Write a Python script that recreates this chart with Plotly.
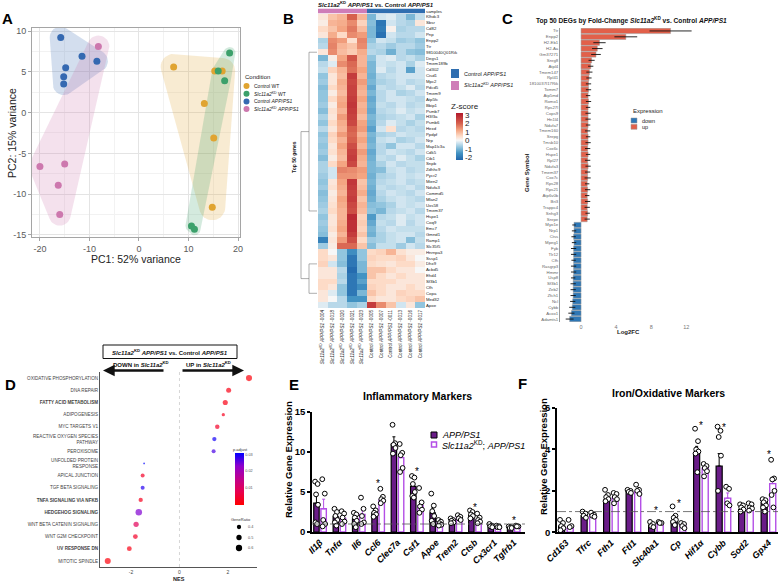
import numpy as np
import plotly.graph_objects as go

W, H = 780, 582
FONT = "Liberation Sans, Arial, Helvetica, sans-serif"


def X(px):
    return px / W


def Y(py):
    return 1 - py / H


# ===================== DATA =====================
# ---- Panel A: PCA ----
pc1_control_wt = [7.0, 15.3, 16.8, 13.2, 15.1, 14.8]
pc2_control_wt = [5.6, 5.1, 5.1, 1.1, -3.1, -11.6]
pc1_kd_wt = [18.3, 16.0, 17.3, 10.6, 11.2]
pc2_kd_wt = [7.3, 5.1, 3.9, -13.9, -14.3]
pc1_control_app = [-15.8, -11.5, -8.5, -14.8, -15.2, -15.2]
pc2_control_app = [9.2, 6.9, 6.3, 5.5, 4.4, 3.5]
pc1_kd_app = [-8.2, -20.0, -15.0, -16.3, -16.0]
pc2_kd_app = [8.1, -6.6, -6.3, -8.9, -12.5]
pca_conditions = ["Control WT", "<i>Slc11a2</i><sup>KD</sup> WT",
                  "Control <i>APP/PS1</i>", "<i>Slc11a2</i><sup>KD</sup> <i>APP/PS1</i>"]
pca_xticks = [-20, -10, 0, 10, 20]
pca_yticks = [-15, -10, -5, 0, 5, 10]

# ---- Panel B: heatmap ----
heat_genes = ["Klhdc3", "Sbsr", "Cd82", "Pnp", "Enpp2", "Ttr", "9810040Q01Rik", "Degs1",
              "Tmem189b", "Cd302", "Cisd1", "Mpc2", "Pdcd5", "Tmem9", "Atp5fc", "Bbip1",
              "Psmb7", "H3f3a", "Psmb6", "Hexd", "Ppdpf", "Nrp", "Map1lc3a", "Cdk5", "Cib1",
              "Snpb", "Zdhhc9", "Pycr2", "Mien2", "Ndufa3", "Commd5", "Mlan2", "Uxs58",
              "Tmem37", "Hspe1", "Coq9", "Emc7", "Gmnd1", "Ramp1", "Slc35f5", "Hnrnpa3",
              "Sssp1", "Dhx9", "Acbd5", "Ehd4", "Sf3b1", "Cfh", "Copa", "Med32", "Apoe"]
heat_sample_ids = ["0004", "0018", "0020", "0021", "0023", "0005", "0007", "0011", "0013", "0016", "0017"]
heat_sample_group = ["KD", "KD", "KD", "KD", "KD", "Control", "Control", "Control", "Control", "Control", "Control"]
heat_z = [
    [0.3, 0.8, 1.0, 2.0, 1.0, -1.0, -0.3, -0.2, -0.5, -1.0, -0.4],
    [0.2, 1.0, 1.1, 1.5, 0.6, -0.9, -2.0, -0.3, -0.5, -0.6, 0.3],
    [0.5, 0.8, 1.2, 1.7, 0.9, -1.0, -1.9, 0.1, -0.6, -0.5, -0.5],
    [0.3, 1.1, 0.5, 1.5, 1.3, -1.0, -2.1, -0.3, -0.5, -0.5, -0.3],
    [-0.6, 1.5, 1.3, 0.4, 1.6, -0.8, -0.3, -0.4, -0.7, -0.6, -0.8],
    [-0.5, 1.6, 1.0, 0.8, 1.5, -0.6, -0.5, -0.7, -0.5, -0.5, -0.7],
    [0.3, 1.5, 0.9, 0.7, 1.1, -0.5, -0.6, -1.1, -0.5, -0.8, -0.9],
    [-1.0, 0.2, 1.2, 2.2, 1.0, -0.8, -0.3, -0.2, -0.5, -0.4, -0.6],
    [-0.5, -0.2, 1.5, 1.9, 1.0, -1.0, -0.3, -0.4, -0.3, -0.6, -0.2],
    [-0.4, 0.6, 1.0, 1.8, 1.2, -1.0, -0.2, -0.5, -0.3, -1.3, -0.3],
    [-0.8, 0.3, 0.9, 2.6, 1.0, -1.1, -0.5, -0.4, -0.3, -0.3, -0.3],
    [-0.7, 0.3, 1.1, 2.4, 1.3, -1.0, -0.6, -0.5, -0.3, -0.5, -0.4],
    [-0.9, 0.5, 1.0, 2.5, 1.1, -1.2, -0.4, -0.5, -0.4, -0.2, -0.5],
    [-0.8, 0.2, 0.9, 2.5, 1.0, -1.0, -0.5, -0.3, -0.6, -0.5, -0.3],
    [-0.8, 0.5, 1.1, 2.6, 1.2, -1.2, -0.5, -0.3, -0.3, -0.4, -0.5],
    [-0.7, 0.2, 1.2, 2.7, 1.0, -1.1, -0.4, -0.5, -0.3, -0.5, -0.4],
    [-0.9, 0.4, 1.0, 2.6, 1.1, -1.2, -0.5, -0.4, -0.2, -0.4, -0.3],
    [-0.6, 0.3, 1.3, 2.5, 0.9, -1.0, -0.6, -0.5, -0.4, -0.3, -0.6],
    [-0.8, 0.5, 1.1, 2.4, 1.2, -1.1, -0.5, -0.2, -0.4, -0.6, -0.4],
    [-0.5, 0.3, 1.0, 2.0, 1.3, -1.3, -0.3, 0.4, -0.5, -0.4, -0.5],
    [-0.8, 0.6, 1.3, 1.9, 1.0, -1.0, -0.6, -0.5, -0.3, -0.4, -0.4],
    [-0.7, 0.5, 1.0, 2.0, 1.2, -1.1, -0.4, -0.3, -0.6, -0.5, -0.3],
    [-0.8, 0.3, 1.2, 2.3, 1.0, -1.0, -0.5, -0.8, -0.3, -0.3, -0.5],
    [-0.7, 0.4, 1.0, 2.5, 1.3, -1.2, -0.5, -0.3, -0.4, -0.5, -0.3],
    [-0.9, 0.2, 0.9, 2.6, 1.1, -1.1, -0.4, -0.5, -0.2, -0.4, -0.6],
    [-0.6, 0.5, 1.2, 2.4, 1.0, -1.0, -0.6, -0.3, -0.5, -0.4, -0.4],
    [-0.6, -0.3, 1.6, 1.5, 1.3, -1.0, -0.9, -0.4, -0.3, -0.5, -0.4],
    [-0.7, -0.3, 1.4, 1.4, 1.2, -1.1, -0.6, -0.5, -0.3, -0.4, -0.3],
    [-0.8, 0.3, 1.2, 2.7, 0.8, -1.0, -0.5, -0.4, -0.3, -0.5, -0.4],
    [-0.7, 0.4, 1.1, 2.6, 0.9, -1.1, -0.4, -0.5, -0.4, -0.3, -0.5],
    [-0.9, 0.2, 1.0, 2.5, 1.1, -1.2, -0.5, -0.3, -0.4, -0.5, -0.3],
    [-0.8, 0.3, 1.2, 2.6, 0.8, -1.1, -0.6, -0.4, -0.3, -0.4, -0.5],
    [-0.7, 0.4, 1.1, 2.4, 1.0, -0.9, -0.8, -0.6, -0.3, -0.4, -0.3],
    [-0.6, 0.5, 1.0, 2.3, 0.9, -0.8, -1.0, -0.5, -0.4, -0.3, -0.5],
    [-0.8, 0.3, 1.0, 2.9, 0.6, -1.4, -0.5, -0.4, -0.2, -0.4, -0.3],
    [-0.7, 0.3, 1.1, 2.8, 0.7, -1.2, -0.4, -0.5, -0.2, -0.5, -0.3],
    [-0.8, 0.4, 1.2, 2.8, 0.6, -1.0, -0.5, -0.3, -0.4, -0.4, -0.4],
    [-0.9, 0.2, 1.0, 2.6, 0.8, -1.1, -0.6, -0.4, -0.3, -0.3, -0.5],
    [-1.8, 0.3, 1.3, 2.3, 0.5, -0.7, -0.6, -0.4, -0.3, -0.9, -0.4],
    [-0.7, 0.2, 1.9, 1.9, 0.8, -0.9, -0.4, -0.4, -0.7, -0.3, -0.5],
    [0.5, 0.0, -0.8, -1.6, -0.8, 0.5, 0.6, 1.0, 0.4, 0.2, 0.2],
    [0.5, 0.3, -0.8, -2.0, -0.8, 0.6, 0.5, 0.5, 0.6, 0.3, 0.0],
    [0.6, -0.3, -0.9, -2.0, -1.0, 0.5, 0.4, 0.3, 0.5, 0.5, 0.2],
    [0.3, 0.3, -0.5, -2.2, -1.0, 0.8, 0.8, 0.5, 0.3, 0.3, 0.0],
    [0.3, 0.3, -0.6, -2.0, -1.5, 0.8, 0.5, 0.3, 0.5, 0.3, 0.3],
    [0.5, 0.5, -0.5, -2.0, -1.3, 0.5, 0.5, 0.5, 0.3, 0.3, 0.3],
    [0.5, 0.3, -0.8, -2.0, -1.6, 0.6, 0.5, 0.3, 0.3, 0.5, 0.3],
    [0.3, -0.2, -0.8, -2.0, -1.0, 0.8, 0.5, 0.3, 0.6, 0.5, 0.5],
    [0.3, 0.0, -0.5, -1.5, -1.5, 0.5, 0.3, 0.3, 0.5, 0.6, 0.8],
    [-0.2, -0.5, -0.5, -0.8, -0.6, 2.6, 1.5, 0.8, -0.3, 0.3, -0.8],
]
zscore_ticks = [-2, -1, 0, 1, 2, 3]

# ---- Panel C: top 50 DEGs ----
c_genes_up = ["Ttr", "Enpp2", "H2-Eb1", "H2-Aa", "Gm37271", "Snrg8", "Atpl4", "Tmem147", "Rpl41",
              "1810037I17Rik", "Tomm7", "Atp5md", "Romo1", "Rps27l", "Cops9", "Hn1l4", "Ndufa7",
              "Tmem160", "Snrpg", "Tmsb10", "Cox6c", "Hspe1", "Rpl27", "Ndufa3", "Tmem37", "Cox7c",
              "Rps28", "Rps21", "Atp6v0b", "Bri3", "Trappc4", "Snhg3", "Snrpe"]
c_lfc_up = [10.2, 5.1, 2.1, 1.85, 1.7, 1.2, 1.1, 0.95, 0.9, 0.85,
            0.85, 0.8, 0.85, 0.8, 0.8, 0.8, 0.8, 0.75, 0.8, 0.8,
            0.75, 0.8, 0.75, 0.8, 0.75, 0.75, 0.7, 0.75, 0.7, 0.75,
            0.7, 0.75, 0.7]
c_err_up = [2.4, 1.3, 0.7, 0.6, 0.55, 0.35, 0.3, 0.35, 0.3, 0.3,
            0.3, 0.25, 0.3, 0.25, 0.3, 0.3, 0.25, 0.3, 0.25, 0.3,
            0.3, 0.25, 0.3, 0.3, 0.3, 0.35, 0.25, 0.3, 0.25, 0.3,
            0.3, 0.25, 0.3]
c_genes_down = ["Myo1e", "Nrp1", "Ctss", "Mpeg1", "Fyb", "Tlr12", "Cfh", "Rasgrp3", "Hmmr", "Usp8",
                "Sf3b1", "Zeb2", "Zfch1", "Ncl", "Cybb", "Acox1", "Adamts1"]
c_lfc_down = [-0.8, -0.8, -0.85, -0.8, -0.85, -0.85, -0.85, -0.85, -0.85, -0.9,
              -0.9, -0.9, -0.9, -0.95, -1.0, -1.1, -1.3]
c_err_down = [0.2, 0.25, 0.25, 0.25, 0.3, 0.3, 0.25, 0.3, 0.3, 0.25,
              0.3, 0.3, 0.3, 0.3, 0.35, 0.35, 0.45]
c_xticks = [0, 4, 8, 12]

# ---- Panel D: GSEA ----
gsea_terms = ["OXIDATIVE PHOSPHORYLATION", "DNA REPAIR", "FATTY ACID METABOLISM", "ADIPOGENESIS",
              "MYC TARGETS V1", "REACTIVE OXYGEN SPECIES PATHWAY", "PEROXISOME",
              "UNFOLDED PROTEIN RESPONSE", "APICAL JUNCTION", "TGF BETA SIGNALING",
              "TNFA SIGNALING VIA NFKB", "HEDGEHOG SIGNALING", "WNT BETA CATENIN SIGNALING",
              "WNT G2M CHECKPOINT", "UV RESPONSE DN", "MITOTIC SPINDLE"]
gsea_nes = [2.87, 2.03, 1.89, 1.81, 1.56, 1.44, 1.41, -1.46, -1.52, -1.52,
            -1.60, -1.68, -1.79, -1.82, -2.07, -2.96]
gsea_padj = [0.001, 0.002, 0.002, 0.003, 0.004, 0.030, 0.027, 0.031, 0.004, 0.029,
             0.003, 0.024, 0.009, 0.004, 0.002, 0.001]
gsea_gene_ratio = [0.58, 0.47, 0.48, 0.30, 0.42, 0.40, 0.37, 0.15, 0.37, 0.37,
                   0.40, 0.62, 0.50, 0.45, 0.45, 0.57]
gsea_ratio_legend = [0.4, 0.5, 0.6]
padj_ticks = [0.01, 0.02, 0.03]
nes_ticks = [-2, 0, 2]

# ---- Panel E: inflammatory markers ----
e_genes = ["Il1β", "Tnfα", "Il6", "Ccl6", "Clec7a", "Csf1", "Apoe", "Trem2", "Ctsb", "Cx3cr1", "Tgfrb1"]
e_app_mean = [3.6, 1.9, 1.6, 2.4, 11.0, 5.7, 2.4, 1.4, 2.1, 0.8, 0.6]
e_app_sem = [1.1, 0.35, 0.3, 0.3, 0.9, 0.5, 0.6, 0.1, 0.2, 0.1, 0.05]
e_kd_mean = [2.9, 1.7, 2.2, 4.0, 9.3, 3.3, 1.2, 1.8, 1.5, 0.7, 0.7]
e_kd_sem = [1.2, 0.3, 0.6, 0.3, 0.7, 0.5, 0.15, 0.15, 0.2, 0.05, 0.05]
e_app_pts = [[6.3, 6.0, 4.7, 3.4, 1.2, 1.0], [2.9, 2.5, 2.0, 1.5, 1.2, 0.8],
             [2.4, 2.2, 1.8, 1.4, 1.0, 0.6], [3.2, 2.7, 2.4, 2.2, 1.9],
             [13.4, 11.1, 10.9, 10.5, 9.8], [7.0, 6.8, 6.0, 5.0, 4.5, 4.3],
             [4.8, 3.3, 2.6, 2.0, 1.4, 1.0], [1.7, 1.5, 1.4, 1.2, 1.1],
             [2.7, 2.5, 2.2, 2.0, 1.7], [1.0, 0.8, 0.7, 0.6], [0.7, 0.6, 0.5, 0.5]]
e_kd_pts = [[6.6, 4.8, 1.5, 1.0, 0.7], [2.6, 2.3, 1.8, 1.3, 1.0],
            [4.3, 2.9, 2.0, 1.2, 1.0], [5.4, 4.4, 4.1, 3.9, 3.6],
            [11.0, 9.9, 9.6, 8.0, 7.5], [5.5, 3.7, 3.2, 2.8, 2.4],
            [1.5, 1.3, 1.1, 0.9, 0.8], [2.1, 1.9, 1.7, 1.5],
            [2.3, 1.8, 1.5, 1.3, 1.1], [0.8, 0.7, 0.6, 0.6], [0.8, 0.7, 0.7]]
e_sig_genes = ["Ccl6", "Csf1", "Ctsb", "Tgfrb1"]
e_sig_y = [6.5, 7.9, 3.5, 1.8]
e_yticks = [0, 5, 10, 15]

# ---- Panel F: iron / oxidative markers ----
f_genes = ["Cd163", "Tfrc", "Fth1", "Ftl1", "Slc40a1", "Cp", "Hif1α", "Cybb", "Sod2", "Gpx4"]
f_app_mean = [0.3, 0.8, 1.55, 1.95, 0.35, 0.55, 3.85, 3.2, 1.1, 1.45]
f_app_sem = [0.1, 0.06, 0.1, 0.05, 0.05, 0.15, 0.3, 0.6, 0.06, 0.08]
f_kd_mean = [0.2, 0.8, 1.65, 1.95, 0.45, 0.35, 3.1, 1.65, 1.1, 2.35]
f_kd_sem = [0.1, 0.05, 0.1, 0.08, 0.02, 0.06, 0.12, 0.25, 0.06, 0.3]
f_app_pts = [[0.6, 0.45, 0.3, 0.2, 0.1], [1.0, 0.9, 0.8, 0.7], [2.05, 1.8, 1.7, 1.6, 1.5],
             [2.05, 2.0, 1.95, 1.9], [0.5, 0.4, 0.3, 0.25], [1.25, 0.8, 0.7, 0.6, 0.5, 0.35],
             [5.0, 4.4, 4.0, 3.9, 3.8, 2.9], [5.1, 4.9, 4.6, 3.7, 2.0],
             [1.35, 1.3, 1.2, 1.1, 1.0], [1.6, 1.55, 1.45, 1.3, 1.2, 1.0]]
f_kd_pts = [[0.6, 0.3, 0.25], [0.95, 0.85, 0.8, 0.75], [1.9, 1.85, 1.7, 1.6, 1.4],
            [2.3, 2.05, 2.0, 1.85], [0.5, 0.45, 0.45], [0.45, 0.4, 0.3, 0.2],
            [3.3, 3.2, 3.1, 2.95, 2.7], [2.2, 2.1, 1.4, 1.3],
            [1.4, 1.35, 1.2, 1.15, 1.05], [3.5, 2.6, 2.55, 2.0, 1.8, 1.2]]
f_sig_genes = ["Slc40a1", "Cp", "Hif1α", "Cybb", "Gpx4"]
f_sig_y = [1.2, 1.55, 5.3, 5.2, 3.9]
f_yticks = [0, 2, 4, 6]
reference_level = 1

# ===================== STYLE =====================
COL_CWT, COL_KWT, COL_CAPP, COL_KAPP = "#E0A431", "#3CA06B", "#3569B1", "#CD78AE"
FILL = {COL_CWT: "rgba(224,164,49,0.22)", COL_KWT: "rgba(60,160,107,0.22)",
        COL_CAPP: "rgba(53,105,177,0.22)", COL_KAPP: "rgba(205,120,174,0.22)"}
UP_COL, DOWN_COL = "#E2604A", "#2E77B5"
APP_COL, KD_COL = "#6A1C88", "#B44FE6"
SAMPLE_BLUE, SAMPLE_PINK = "#2F6EB0", "#CF7DB8"


def lab(v):
    return str(v).replace("−", "-")


def rounded_hull(xs, ys, sx, sy, r, n=36):
    pts = []
    for x, y in zip(xs, ys):
        for k in range(n):
            t = 2 * np.pi * k / n
            pts.append((round(x * sx + r * np.cos(t), 4), round(y * sy + r * np.sin(t), 4)))
    pts = sorted(set(pts))

    def cross(o, a, b):
        return (a[0] - o[0]) * (b[1] - o[1]) - (a[1] - o[1]) * (b[0] - o[0])

    lower, upper = [], []
    for p in pts:
        while len(lower) >= 2 and cross(lower[-2], lower[-1], p) <= 0:
            lower.pop()
        lower.append(p)
    for p in reversed(pts):
        while len(upper) >= 2 and cross(upper[-2], upper[-1], p) <= 0:
            upper.pop()
        upper.append(p)
    hull = lower[:-1] + upper[:-1]
    hull.append(hull[0])
    return [p[0] / sx for p in hull], [p[1] / sy for p in hull]


fig = go.Figure()
annotations = []
shapes = []

# ===================== PANEL A =====================
a_xr, a_yr = [-21.6, 20.4], [-15.25, 10.37]
a_sx = (240 - 32) / (a_xr[1] - a_xr[0])
a_sy = (237 - 28) / (a_yr[1] - a_yr[0])
groupsA = [(pc1_control_wt, pc2_control_wt, COL_CWT, 13),
           (pc1_kd_wt, pc2_kd_wt, COL_KWT, 6),
           (pc1_control_app, pc2_control_app, COL_CAPP, 11),
           (pc1_kd_app, pc2_kd_app, COL_KAPP, 11)]
for xs, ys, col, r in groupsA:
    hx, hy = rounded_hull(xs, ys, a_sx, a_sy, r)
    fig.add_trace(go.Scatter(x=hx, y=hy, mode="lines", fill="toself", fillcolor=FILL[col],
                             line=dict(width=0), hoverinfo="skip", xaxis="x", yaxis="y"))
for xs, ys, col, r in groupsA:
    fig.add_trace(go.Scatter(x=xs, y=ys, mode="markers", marker=dict(color=col, size=7),
                             xaxis="x", yaxis="y"))

annotations += [
    dict(text="PC1: 52% variance", x=X(136), y=Y(259), font=dict(size=10.5, color="#222")),
    dict(text="PC2: 15% variance", x=X(12), y=Y(133), textangle=-90, font=dict(size=10.5, color="#222")),
    dict(text="Condition", x=X(243), y=Y(77), xanchor="left", font=dict(size=6, color="#222")),
]
for i, (name, col) in enumerate(zip(pca_conditions, [COL_CWT, COL_KWT, COL_CAPP, COL_KAPP])):
    yy = 86 + i * 7.7
    shapes.append(dict(type="circle", xref="paper", yref="paper", xsizemode="pixel", ysizemode="pixel",
                       xanchor=X(246.5), yanchor=Y(yy), x0=-3, x1=3, y0=-3, y1=3,
                       fillcolor=col, line=dict(width=0)))
    annotations.append(dict(text=name, x=X(251.5), y=Y(yy), xanchor="left", font=dict(size=5, color="#222")))

# ===================== PANEL B =====================
zmin, zmax = -2.3, 3.2
cs_vals = [-2.3, -1.5, -0.8, -0.3, 0.0, 0.5, 1.2, 2.0, 3.2]
cs_cols = ["#2166AC", "#4393C3", "#92C5DE", "#D1E5F0", "#F7F7F7", "#FDDBC7", "#F4A582", "#D6604D", "#B2182B"]
heat_cs = [[(v - zmin) / (zmax - zmin), c] for v, c in zip(cs_vals, cs_cols)]
sample_keys = [g + "-" + s for g, s in zip(heat_sample_group, heat_sample_ids)]
sample_text = [("<i>Slc11a2</i><sup>KD</sup> <i>APP/PS1</i> -" if g == "KD" else "Control <i>APP/PS1</i> -") + s
               for g, s in zip(heat_sample_group, heat_sample_ids)]
fig.add_trace(go.Heatmap(
    z=heat_z, x=sample_keys, y=heat_genes, colorscale=heat_cs, zmin=zmin, zmax=zmax,
    xaxis="x2", yaxis="y2",
    colorbar=dict(x=X(456), xanchor="left", y=Y(113), yanchor="top", len=47, lenmode="pixels",
                  thickness=7, thicknessmode="pixels", xpad=0, ypad=0, outlinewidth=0,
                  tickmode="array", tickvals=zscore_ticks, ticktext=[lab(v) for v in zscore_ticks],
                  tickfont=dict(size=8, color="#222"), ticks="")))
fig.add_trace(go.Heatmap(
    z=[[1 if g == "KD" else 0 for g in heat_sample_group]], x=sample_keys, y=["samples"],
    colorscale=[[0, SAMPLE_BLUE], [1, SAMPLE_PINK]], showscale=False, zmin=0, zmax=1,
    xaxis="x3", yaxis="y3"))

annotations += [
    dict(text="<b><i>Slc11a2</i><sup>KD</sup> <i>APP/PS1</i> vs. Control <i>APP/PS1</i></b>",
         x=X(376), y=Y(4.5), font=dict(size=6, color="#111")),
    dict(text="Z-score", x=X(465), y=Y(106.5), font=dict(size=8, color="#222")),
    dict(text="Control <i>APP/PS1</i>", x=X(462), y=Y(74), xanchor="left", font=dict(size=5.5, color="#222")),
    dict(text="<i>Slc11a2</i><sup>KD</sup> <i>APP/PS1</i>", x=X(462), y=Y(85), xanchor="left",
         font=dict(size=5.5, color="#222")),
    dict(text="<b>Top 50 genes</b>", x=X(294), y=Y(157), textangle=-90, font=dict(size=5, color="#222")),
]
shapes += [
    dict(type="rect", xref="paper", yref="paper", x0=X(451), x1=X(459), y0=Y(78), y1=Y(69),
         fillcolor=SAMPLE_BLUE, line=dict(width=0)),
    dict(type="rect", xref="paper", yref="paper", x0=X(451), x1=X(459), y0=Y(90), y1=Y(81),
         fillcolor=SAMPLE_PINK, line=dict(width=0)),
]
# simple row dendrogram (up-cluster rows 0-39, down-cluster rows 40-49)
dline = dict(color="#777", width=0.6)
for seg in [((301, 19.5), (301, 44.5)), ((301, 19.5), (309, 19.5)), ((301, 44.5), (309, 44.5)),
            ((309, 6), (309, 33)), ((309, 6), (317, 6)), ((309, 33), (317, 33)),
            ((309, 42), (309, 47)), ((309, 42), (317, 42)), ((309, 47), (317, 47))]:
    (x0, y0), (x1, y1) = seg
    shapes.append(dict(type="line", xref="paper", yref="y2", x0=X(x0), x1=X(x1), y0=y0, y1=y1, line=dline))

# ===================== PANEL C =====================
fig.add_trace(go.Bar(x=c_lfc_up, y=c_genes_up, orientation="h", width=0.9,
                     marker=dict(color=UP_COL, line=dict(color="#999", width=0.5)),
                     error_x=dict(type="data", array=c_err_up, color="#111", thickness=0.9, width=0),
                     xaxis="x4", yaxis="y4"))
fig.add_trace(go.Bar(x=c_lfc_down, y=c_genes_down, orientation="h", width=0.9,
                     marker=dict(color=DOWN_COL, line=dict(color="#999", width=0.5)),
                     error_x=dict(type="data", array=c_err_down, color="#111", thickness=0.9, width=0),
                     xaxis="x4", yaxis="y4"))
c_all = c_genes_up + c_genes_down
annotations += [
    dict(text="<b>Top 50 DEGs by Fold-Change <i>Slc11a2</i><sup>KD</sup> vs. Control <i>APP/PS1</i></b>",
         x=X(631), y=Y(20.5), font=dict(size=6.6, color="#111")),
    dict(text="<b>Log2FC</b>", x=X(628), y=Y(331.5), font=dict(size=6, color="#222")),
    dict(text="<b>Gene Symbol</b>", x=X(527), y=Y(173), textangle=-90, font=dict(size=6, color="#222")),
    dict(text="Expression", x=X(631), y=Y(111), xanchor="left", font=dict(size=6, color="#222")),
    dict(text="down", x=X(640), y=Y(120.5), xanchor="left", font=dict(size=5.5, color="#222")),
    dict(text="up", x=X(640), y=Y(126.8), xanchor="left", font=dict(size=5.5, color="#222")),
]
shapes += [
    dict(type="rect", xref="paper", yref="paper", x0=X(631), x1=X(637), y0=Y(123), y1=Y(118),
         fillcolor=DOWN_COL, line=dict(color="#999", width=0.5)),
    dict(type="rect", xref="paper", yref="paper", x0=X(631), x1=X(637), y0=Y(129.3), y1=Y(124.3),
         fillcolor=UP_COL, line=dict(color="#999", width=0.5)),
]

# ===================== PANEL D =====================
def ratio_to_px(r):
    return 10 * r + 0.3


padj_cs = [[0, "#FF0000"], [0.25, "#E8004E"], [0.5, "#C0008C"], [0.75, "#8E00CC"], [1, "#0000FF"]]
fig.add_trace(go.Scatter(
    x=gsea_nes, y=gsea_terms, mode="markers", xaxis="x5", yaxis="y5",
    marker=dict(size=[ratio_to_px(r) for r in gsea_gene_ratio], color=gsea_padj, colorscale=padj_cs,
                cmin=0, cmax=0.031, line=dict(width=0),
                colorbar=dict(x=X(235), xanchor="left", y=Y(452.7), yanchor="top", len=52, lenmode="pixels",
                              thickness=9, thicknessmode="pixels", xpad=0, ypad=0, outlinewidth=0,
                              tickmode="array", tickvals=padj_ticks, ticktext=[str(v) for v in padj_ticks],
                              tickfont=dict(size=3.8, color="#555"), ticks=""))))
wrapped = {"REACTIVE OXYGEN SPECIES PATHWAY": "REACTIVE OXYGEN SPECIES<br>PATHWAY",
           "UNFOLDED PROTEIN RESPONSE": "UNFOLDED PROTEIN<br>RESPONSE"}
bold_terms = {"FATTY ACID METABOLISM", "TNFA SIGNALING VIA NFKB", "HEDGEHOG SIGNALING", "UV RESPONSE DN"}
term_text = []
for t in gsea_terms:
    s = wrapped.get(t, t)
    term_text.append("<b>" + s + "</b>" if t in bold_terms else s)
annotations += [
    dict(text="<b><i>Slc11a2</i><sup>KD</sup> <i>APP/PS1</i> vs. Control <i>APP/PS1</i></b>",
         x=X(170), y=Y(351.5), font=dict(size=6, color="#111")),
    dict(text="<b>DOWN in <i>Slc11a2</i><sup>KD</sup></b>", x=X(141), y=Y(363.5), font=dict(size=6, color="#111")),
    dict(text="<b>UP in <i>Slc11a2</i><sup>KD</sup></b>", x=X(208), y=Y(363.5), font=dict(size=6, color="#111")),
    dict(text=" ", x=X(103), y=Y(370.5), ax=63, ay=0, showarrow=True, arrowhead=2, arrowsize=0.9,
         arrowwidth=2.6, arrowcolor="#111"),
    dict(text=" ", x=X(244), y=Y(370.5), ax=-64, ay=0, showarrow=True, arrowhead=2, arrowsize=0.9,
         arrowwidth=2.6, arrowcolor="#111"),
    dict(text="<b>NES</b>", x=X(179), y=Y(578.5), font=dict(size=5.5, color="#222")),
    dict(text="p.adjust", x=X(240), y=Y(449.5), font=dict(size=4, color="#333")),
    dict(text="GeneRatio", x=X(241), y=Y(519), font=dict(size=4, color="#333")),
]
shapes.append(dict(type="rect", xref="paper", yref="paper", x0=X(103), x1=X(237), y0=Y(358.5), y1=Y(345),
                   line=dict(color="#111", width=1)))
shapes.append(dict(type="line", xref="x5", yref="y5 domain", x0=0, x1=0, y0=0, y1=1,
                   line=dict(color="#CCCCCC", width=0.8, dash="dot")))
for i, r in enumerate(gsea_ratio_legend):
    yy = 527 + i * 10.5
    rad = ratio_to_px(r) / 2
    shapes.append(dict(type="circle", xref="paper", yref="paper", xsizemode="pixel", ysizemode="pixel",
                       xanchor=X(239), yanchor=Y(yy), x0=-rad, x1=rad, y0=-rad, y1=rad,
                       fillcolor="#000", line=dict(width=0)))
    annotations.append(dict(text=str(r), x=X(245.5), y=Y(yy), xanchor="left", font=dict(size=3.8, color="#555")))

# ===================== PANELS E & F =====================
jit = [-0.07, 0.06, -0.02, 0.08, -0.05, 0.03]


def bar_panel(genes, app_m, app_s, kd_m, kd_s, app_pts, kd_pts, xa, ya, off_app, off_kd, wdt):
    idx = list(range(len(genes)))
    fig.add_trace(go.Bar(x=idx, y=app_m, offset=off_app, width=wdt, xaxis=xa, yaxis=ya,
                         marker=dict(color=APP_COL, line=dict(color="#000", width=1.2)),
                         error_y=dict(type="data", symmetric=False, array=app_s, arrayminus=[0] * len(idx),
                                      color="#000", thickness=1, width=1.5)))
    fig.add_trace(go.Bar(x=idx, y=kd_m, offset=off_kd, width=wdt, xaxis=xa, yaxis=ya,
                         marker=dict(color="white", line=dict(color=KD_COL, width=1.4)),
                         error_y=dict(type="data", symmetric=False, array=kd_s, arrayminus=[0] * len(idx),
                                      color=KD_COL, thickness=1, width=1.5)))
    for pts_list, off in [(app_pts, off_app), (kd_pts, off_kd)]:
        xs, ys = [], []
        for i, pts in enumerate(pts_list):
            for k, v in enumerate(pts):
                xs.append(i + off + wdt / 2 + jit[k % len(jit)])
                ys.append(v)
        fig.add_trace(go.Scatter(x=xs, y=ys, mode="markers", xaxis=xa, yaxis=ya, cliponaxis=False,
                                 marker=dict(color="white", size=4.8, line=dict(color="#000", width=1))))


bar_panel(e_genes, e_app_mean, e_app_sem, e_kd_mean, e_kd_sem, e_app_pts, e_kd_pts, "x6", "y6", -0.33, 0.04, 0.28)
bar_panel(f_genes, f_app_mean, f_app_sem, f_kd_mean, f_kd_sem, f_app_pts, f_kd_pts, "x7", "y7", -0.33, 0.05, 0.27)

for g, yv in zip(e_sig_genes, e_sig_y):
    annotations.append(dict(text="*", xref="x6", yref="y6", x=e_genes.index(g), y=yv, yshift=-3,
                            font=dict(size=10, color="#000")))
for g, yv in zip(f_sig_genes, f_sig_y):
    annotations.append(dict(text="*", xref="x7", yref="y7", x=f_genes.index(g), y=yv, yshift=-3,
                            font=dict(size=10, color="#000")))
shapes += [
    dict(type="line", xref="x6 domain", yref="y6", x0=0, x1=1, y0=reference_level, y1=reference_level,
         line=dict(color="#555", width=0.8, dash="dashdot")),
    dict(type="line", xref="x7 domain", yref="y7", x0=0, x1=1, y0=reference_level, y1=reference_level,
         line=dict(color="#555", width=0.8, dash="dashdot")),
    dict(type="rect", xref="paper", yref="paper", x0=X(431), x1=X(437), y0=Y(438), y1=Y(432),
         fillcolor=APP_COL, line=dict(color="#000", width=1)),
    dict(type="rect", xref="paper", yref="paper", x0=X(431.5), x1=X(436.5), y0=Y(447), y1=Y(442),
         fillcolor="white", line=dict(color=KD_COL, width=1.5)),
]
annotations += [
    dict(text="<b>Inflammatory Markers</b>", x=X(417), y=Y(396), font=dict(size=10.5, color="#000")),
    dict(text="<b>Iron/Oxidative Markers</b>", x=X(668), y=Y(393), font=dict(size=10.5, color="#000")),
    dict(text="<b>Relative Gene Expression</b>", x=X(288), y=Y(460), textangle=-90, font=dict(size=9.5, color="#000")),
    dict(text="<b>Relative Gene Expression</b>", x=X(543), y=Y(457), textangle=-90, font=dict(size=9.5, color="#000")),
    dict(text="<i>APP/PS1</i>", x=X(440), y=Y(434.5), xanchor="left", font=dict(size=9, color="#000")),
    dict(text="<i>Slc11a2</i><sup>KD</sup>; <i>APP/PS1</i>", x=X(440), y=Y(445.5), xanchor="left",
         font=dict(size=9, color="#000")),
]

# panel letters
for letter, px, py in [("A", 7.5, 18), ("B", 288, 18), ("C", 507, 18), ("D", 10, 384), ("E", 294, 384), ("F", 522, 383)]:
    annotations.append(dict(text="<b>" + letter + "</b>", x=X(px), y=Y(py), font=dict(size=15, color="#000")))

for a in annotations:
    a.setdefault("xref", "paper")
    a.setdefault("yref", "paper")
    a.setdefault("showarrow", False)
    a.setdefault("xanchor", "center")
    a.setdefault("yanchor", "middle")

# ===================== LAYOUT =====================
noax = dict(showgrid=False, zeroline=False, automargin=False)
layout = dict(
    width=W, height=H, autosize=False, template="none", showlegend=False,
    margin=dict(l=0, r=0, t=0, b=0, autoexpand=False),
    paper_bgcolor="white", plot_bgcolor="white", barmode="overlay",
    font=dict(family=FONT, size=8, color="#222"),
    annotations=annotations, shapes=shapes,
    # A
    xaxis=dict(domain=[X(32), X(240)], anchor="y", range=a_xr, tickmode="array", tickvals=pca_xticks,
               ticktext=[lab(v) for v in pca_xticks], showgrid=True, gridcolor="#E4E4E4", gridwidth=0.8,
               minor=dict(tickmode="array", tickvals=[-15, -5, 5, 15], showgrid=True, gridcolor="#F2F2F2",
                          gridwidth=0.6, ticks=""),
               showline=True, mirror=True, linecolor="#A5A5A5", linewidth=1, ticks="outside", ticklen=3,
               tickcolor="#A5A5A5", tickfont=dict(size=9, color="#5A5A5A"), zeroline=False, automargin=False),
    yaxis=dict(domain=[Y(237), Y(28)], anchor="x", range=a_yr, tickmode="array", tickvals=pca_yticks,
               ticktext=[lab(v) for v in pca_yticks], showgrid=True, gridcolor="#E4E4E4", gridwidth=0.8,
               minor=dict(tickmode="array", tickvals=[-12.5, -7.5, -2.5, 2.5, 7.5], showgrid=True,
                          gridcolor="#F2F2F2", gridwidth=0.6, ticks=""),
               showline=True, mirror=True, linecolor="#A5A5A5", linewidth=1, ticks="outside", ticklen=3,
               tickcolor="#A5A5A5", tickfont=dict(size=9, color="#5A5A5A"), zeroline=False, automargin=False),
    # B heatmap
    xaxis2=dict(domain=[X(318), X(425)], anchor="y2", type="category", categoryorder="array",
                categoryarray=sample_keys, tickmode="array", tickvals=sample_keys, ticktext=sample_text,
                tickangle=-90, tickfont=dict(size=4.6, color="#222"), ticks="", showline=False, **noax),
    yaxis2=dict(domain=[Y(308), Y(14)], anchor="x2", type="category", categoryorder="array",
                categoryarray=heat_genes, autorange="reversed", side="right", tickmode="array",
                tickvals=heat_genes, ticktext=heat_genes, tickfont=dict(size=4.3, color="#222"),
                ticks="", showline=False, **noax),
    xaxis3=dict(domain=[X(318), X(425)], anchor="y3", type="category", categoryorder="array",
                categoryarray=sample_keys, showticklabels=False, ticks="", showline=False, **noax),
    yaxis3=dict(domain=[Y(13.5), Y(8.5)], anchor="x3", type="category", side="right",
                tickfont=dict(size=4.3, color="#222"), ticks="", showline=False, **noax),
    # C
    xaxis4=dict(domain=[X(560), X(696)], anchor="y4", range=[-2.4, 13.1], tickmode="array",
                tickvals=c_xticks, ticktext=[str(v) for v in c_xticks], tickfont=dict(size=5.5, color="#777"),
                ticks="", showline=False, **noax),
    yaxis4=dict(domain=[Y(322), Y(28)], anchor="x4", type="category", categoryorder="array",
                categoryarray=c_all, autorange="reversed", tickmode="array", tickvals=c_all, ticktext=c_all,
                tickfont=dict(size=4.3, color="#666"), ticks="", showline=True, linecolor="#999",
                linewidth=0.8, **noax),
    # D
    xaxis5=dict(domain=[X(100), X(257)], anchor="y5", range=[-3.28, 3.2], tickmode="array",
                tickvals=nes_ticks, ticktext=[lab(v) for v in nes_ticks], tickfont=dict(size=5, color="#444"),
                ticks="", showline=True, linecolor="#555", linewidth=1, **noax),
    yaxis5=dict(domain=[Y(567), Y(372)], anchor="x5", type="category", categoryorder="array",
                categoryarray=gsea_terms, range=[15.5, -0.5], tickmode="array", tickvals=gsea_terms,
                ticktext=term_text, tickfont=dict(size=4.6, color="#444"), ticks="", showline=True,
                linecolor="#555", linewidth=1, **noax),
    # E
    xaxis6=dict(domain=[X(312), X(525)], anchor="y6", range=[-0.42, 10.58], tickmode="array",
                tickvals=list(range(len(e_genes))), ticktext=e_genes, tickangle=-45,
                tickfont=dict(size=9, color="#000", weight="bold", style="italic"), ticks="",
                showline=True, linecolor="#000", linewidth=1.5, **noax),
    yaxis6=dict(domain=[Y(532), Y(412)], anchor="x6", range=[0, 15], tickmode="array", tickvals=e_yticks,
                ticktext=[str(v) for v in e_yticks], tickfont=dict(size=9.5, color="#000", weight="bold"),
                ticks="outside", ticklen=3, tickwidth=1.5, tickcolor="#000", showline=True, linecolor="#000",
                linewidth=1.5, **noax),
    # F
    xaxis7=dict(domain=[X(557), X(778)], anchor="y7", range=[-0.4, 9.42], tickmode="array",
                tickvals=list(range(len(f_genes))), ticktext=f_genes, tickangle=-45,
                tickfont=dict(size=9, color="#000", weight="bold", style="italic"), ticks="",
                showline=True, linecolor="#000", linewidth=1.5, **noax),
    yaxis7=dict(domain=[Y(532.3), Y(408)], anchor="x7", range=[0, 6], tickmode="array", tickvals=f_yticks,
                ticktext=[str(v) for v in f_yticks], tickfont=dict(size=9.5, color="#000", weight="bold"),
                ticks="outside", ticklen=3, tickwidth=1.5, tickcolor="#000", showline=True, linecolor="#000",
                linewidth=1.5, **noax),
)
fig.update_layout(**layout)
fig.write_html("out.html", config={"displayModeBar": False},
               post_script="document.body.style.margin='0px';document.body.style.padding='0px';"
                           "document.body.style.overflow='hidden';")
